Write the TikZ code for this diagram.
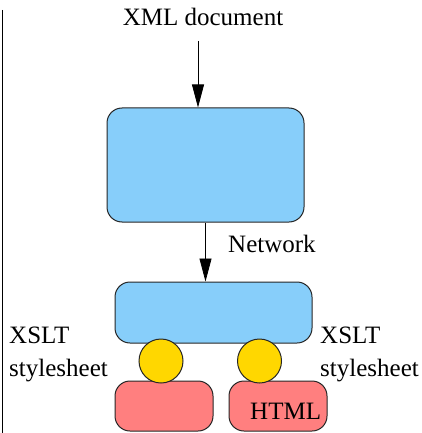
\documentclass[tikz,border=0pt]{standalone}
\usepackage{fontspec}
\setmainfont{Liberation Serif}
\usetikzlibrary{arrows.meta}
\definecolor{boxblue}{HTML}{87CEFA}
\definecolor{ballgold}{HTML}{FFD700}
\definecolor{boxred}{HTML}{FF7F7F}
\begin{document}
\begin{tikzpicture}[x=1pt,y=-1pt,
  every node/.style={font=\fontsize{25}{30}\selectfont},
  bluebox/.style={draw=black!85, line width=1pt, fill=boxblue, rounded corners=15pt, inner sep=0pt},
  redbox/.style={draw=black!85, line width=1pt, fill=boxred, rounded corners=15pt, inner sep=0pt, minimum width=98pt, minimum height=50pt},
  ball/.style={draw=black!85, line width=1pt, fill=ballgold, circle, inner sep=0pt, minimum size=44pt},
  lbl/.style={inner sep=0pt, anchor=base west},
  flow/.style={draw=black, line width=0.8pt, -{Triangle[length=23pt,width=12pt]}}]
\useasboundingbox (0,0) rectangle (422,433);
\draw[line width=1pt] (2,10) -- (2,433);
\node[inner sep=0pt, anchor=base] (xml) at (203,26) {XML document};
\coordinate (xmlstart) at (198,41);
\node[bluebox, minimum width=197pt, minimum height=114pt] (client) at (205.5,165) {};
\node[bluebox, minimum width=197pt, minimum height=61pt] (proc) at (213.5,312.5) {};
\node[redbox] (outl) at (164,406) {};
\node[redbox] (outr) at (278,406) {};
\node[lbl] (html) at (250,419) {HTML};
\node[ball] (sl) at (161,361) {};
\node[ball] (sr) at (259.5,361) {};
\node[lbl] (net) at (228,252.7) {Network};
\node[lbl] (xl1) at (9,343) {XSLT};
\node[lbl] (xl2) at (9,376) {stylesheet};
\node[lbl] (xr1) at (320,343) {XSLT};
\node[lbl] (xr2) at (320,376) {stylesheet};
\draw[flow] (xmlstart) -- (xmlstart |- client.north);
\draw[flow] (client.south) -- (client.south |- proc.north);
\end{tikzpicture}
\end{document}
